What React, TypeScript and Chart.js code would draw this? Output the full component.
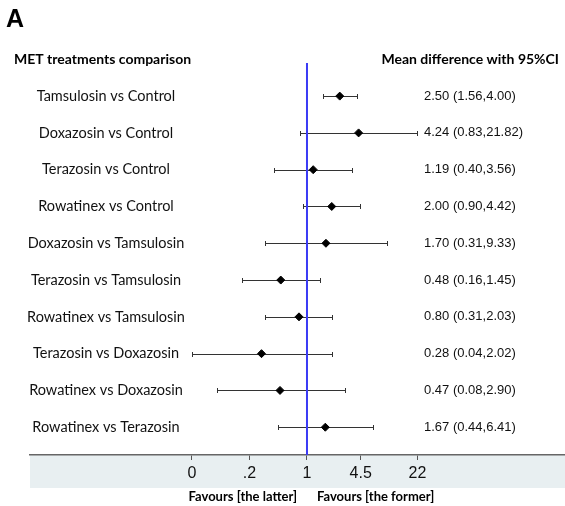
import React, { useEffect, useRef } from "react";
import { Chart, registerables } from "chart.js";

Chart.register(...registerables);

const comparisons = [
  "Tamsulosin vs Control",
  "Doxazosin vs Control",
  "Terazosin vs Control",
  "Rowatinex vs Control",
  "Doxazosin vs Tamsulosin",
  "Terazosin vs Tamsulosin",
  "Rowatinex vs Tamsulosin",
  "Terazosin vs Doxazosin",
  "Rowatinex vs Doxazosin",
  "Rowatinex vs Terazosin",
];
const means = [2.5, 4.24, 1.19, 2.0, 1.7, 0.48, 0.8, 0.28, 0.47, 1.67];
const lower = [1.56, 0.83, 0.4, 0.9, 0.31, 0.16, 0.31, 0.04, 0.08, 0.44];
const upper = [4.0, 21.82, 3.56, 4.42, 9.33, 1.45, 2.03, 2.02, 2.9, 6.41];
const tickValues = [0.04, 0.2, 1, 4.5, 22];
const tickLabels = ["0", ".2", "1", "4.5", "22"];

const X_MIN = Math.pow(10, -3.367);
const X_MAX = Math.pow(10, 3.1364);
const Y_MIN = 0.1;
const Y_MAX = 10.755;

const fmt = (v: number) => v.toFixed(2);

const forestPlugin = {
  id: "forest",
  beforeDraw(chart: any) {
    const { ctx, chartArea } = chart;
    ctx.save();
    ctx.fillStyle = "#e8eff1";
    ctx.fillRect(chartArea.left, chartArea.bottom, chartArea.right - chartArea.left, 33);
    ctx.restore();
  },
  beforeDatasetsDraw(chart: any) {
    const { ctx } = chart;
    const xs = chart.scales.x;
    const ys = chart.scales.y;
    ctx.save();
    ctx.strokeStyle = "#333333";
    ctx.lineWidth = 1;
    for (let i = 0; i < means.length; i++) {
      const y = Math.round(ys.getPixelForValue(i + 1)) + 0.5;
      const x1 = Math.round(xs.getPixelForValue(lower[i])) + 0.5;
      const x2 = Math.round(xs.getPixelForValue(upper[i])) + 0.5;
      ctx.beginPath();
      ctx.moveTo(x1, y);
      ctx.lineTo(x2, y);
      ctx.moveTo(x1, y - 2.5);
      ctx.lineTo(x1, y + 2.5);
      ctx.moveTo(x2, y - 2.5);
      ctx.lineTo(x2, y + 2.5);
      ctx.stroke();
    }
    ctx.restore();
  },
  afterDraw(chart: any) {
    const { ctx, chartArea } = chart;
    const ys = chart.scales.y;
    ctx.save();
    ctx.fillStyle = "#000";
    // panel letter
    ctx.textBaseline = "alphabetic";
    ctx.font = "bold 25px 'Liberation Sans', Arial, sans-serif";
    ctx.textAlign = "left";
    ctx.fillText("A", 6, 27);
    ctx.textBaseline = "middle";
    // headers
    ctx.font = "bold 14px Lato, sans-serif";
    ctx.fillText("MET treatments comparison", 14, 59);
    ctx.textAlign = "right";
    ctx.fillText("Mean difference with 95%CI", 559, 59);
    // row labels
    ctx.font = "14.5px Lato, sans-serif";
    ctx.textAlign = "center";
    ctx.fillStyle = "#111";
    for (let i = 0; i < comparisons.length; i++) {
      const y = ys.getPixelForValue(i + 1);
      ctx.fillText(comparisons[i], 106, y);
    }
    ctx.font = "13px 'Liberation Sans', Arial, sans-serif";
    ctx.textAlign = "left";
    for (let i = 0; i < means.length; i++) {
      const y = ys.getPixelForValue(i + 1);
      ctx.fillText(`${fmt(means[i])} (${fmt(lower[i])},${fmt(upper[i])})`, 424, y);
    }
    // favours labels
    ctx.font = "bold 13px Lato, sans-serif";
    ctx.fillStyle = "#000";
    ctx.textAlign = "right";
    ctx.fillText("Favours [the latter]", 297, chartArea.bottom + 42);
    ctx.textAlign = "left";
    ctx.fillText("Favours [the former]", 317, chartArea.bottom + 42);
    ctx.restore();
  },
};

export default function App() {
  const ref = useRef<HTMLCanvasElement | null>(null);
  useEffect(() => {
    if (!ref.current) return;
    const chart = new Chart(ref.current, {
      type: "scatter",
      data: {
        datasets: [
          {
            type: "line",
            data: [
              { x: 1, y: Y_MIN },
              { x: 1, y: Y_MAX },
            ],
            borderColor: "#3b3bf5",
            borderWidth: 2,
            pointRadius: 0,
            showLine: true,
            order: 2,
          },
          {
            data: means.map((m, i) => ({ x: m, y: i + 1 })),
            pointStyle: "rectRot",
            pointRadius: 4,
            backgroundColor: "#000",
            borderColor: "#000",
            borderWidth: 1,
            order: 1,
          },
        ],
      },
      options: {
        animation: false,
        responsive: false,
        maintainAspectRatio: false,
        events: [],
        layout: { autoPadding: false, padding: { left: 30, right: 0, top: 63, bottom: 0 } },
        plugins: {
          legend: { display: false },
          tooltip: { enabled: false },
        },
        scales: {
          x: {
            type: "logarithmic",
            min: X_MIN,
            max: X_MAX,
            bounds: "data",
            afterBuildTicks: (scale: any) => {
              scale.ticks = tickValues.map((v) => ({ value: v }));
            },
            afterFit: (scale: any) => {
              scale.height = 51;
              scale.paddingLeft = 0;
              scale.paddingRight = 0;
            },
            ticks: {
              autoSkip: false,
              maxRotation: 0,
              padding: 4,
              color: "#111",
              font: { family: "'Liberation Sans', Arial, sans-serif", size: 16 },
              callback: (v: any) => {
                const idx = tickValues.indexOf(Number(v));
                return idx >= 0 ? tickLabels[idx] : "";
              },
            },
            grid: {
              drawOnChartArea: false,
              drawTicks: true,
              tickLength: 5,
              color: "#555",
            },
            border: { display: true, color: "#666", width: 1.5 },
          },
          y: {
            type: "linear",
            display: false,
            reverse: true,
            min: Y_MIN,
            max: Y_MAX,
          },
        },
      },
      plugins: [forestPlugin],
    });
    return () => chart.destroy();
  }, []);
  return (
    <div style={{ position: "fixed", left: 0, top: 0, width: 565, height: 506, background: "#fff" }}>
      <canvas ref={ref} width={565} height={506} style={{ width: 565, height: 506, display: "block" }} />
    </div>
  );
}
